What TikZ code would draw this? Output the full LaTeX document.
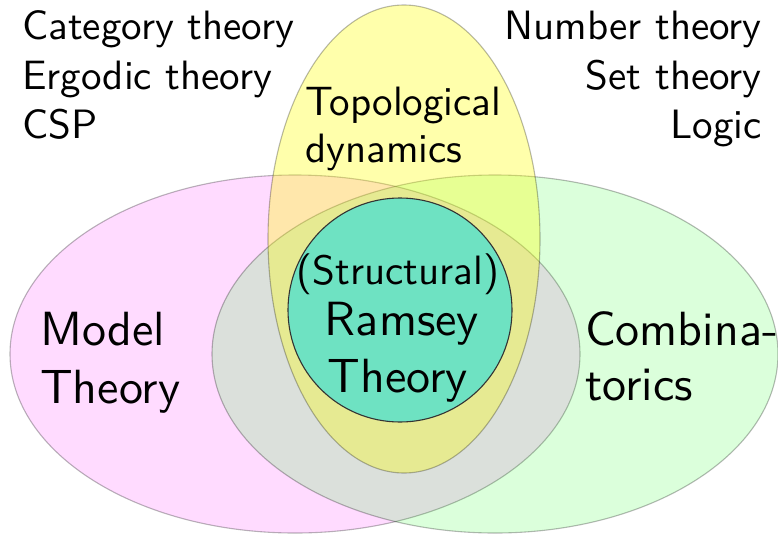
\documentclass[tikz,border=0pt]{standalone}
\usepackage{fontspec}
\setsansfont{lmsans10-regular}[Extension=.otf]
\usetikzlibrary{shapes.geometric}
\definecolor{ramseyfill}{RGB}{110,226,194}
\definecolor{modelcol}{RGB}{255,0,255}
\definecolor{combcol}{RGB}{0,255,0}
\definecolor{topocol}{RGB}{255,255,0}
\begin{document}
\begin{tikzpicture}[x=1pt,y=-1pt,
  region/.style={ellipse, inner sep=0pt, draw=black, draw opacity=0.28, line width=1.1pt},
  lbl/.style={font=\sffamily\fontsize{41}{49}\selectfont, inner sep=0pt},
  mid/.style={font=\sffamily\fontsize{41}{49}\selectfont, inner sep=0pt},
  big/.style={font=\sffamily\fontsize{48}{57}\selectfont, inner sep=0pt}]
\useasboundingbox (0,0) rectangle (778,535);
\node[region, fill=modelcol, fill opacity=0.14, minimum width=570pt, minimum height=358pt] (model) at (295,354) {};
\node[region, fill=combcol, fill opacity=0.14, minimum width=566pt, minimum height=358pt] (comb) at (495,354) {};
\node[region, fill=topocol, fill opacity=0.33, minimum width=272pt, minimum height=468pt] (topo) at (404,239) {};
\node[circle, inner sep=0pt, fill=ramseyfill, draw=black!80, line width=1.1pt, minimum size=224pt] (ramsey) at (400,310) {};
% corner labels
\node[lbl, anchor=base west] (cat) at (22,40) {Category theory};
\node[lbl, anchor=base west] (erg) at (22,89) {Ergodic theory};
\node[lbl, anchor=base west] (csp) at (22,138) {CSP};
\node[lbl, anchor=base east] (num) at (762,40) {Number theory};
\node[lbl, anchor=base east] (set) at (762,89) {Set theory};
\node[lbl, anchor=base east] (logic) at (762,138) {Logic};
% region labels
\node[mid, anchor=base west] (topo1) at (305,115) {Topological};
\node[mid, anchor=base west] (topo2) at (305,162) {dynamics};
\node[mid, anchor=base] (ram1) at (398,284) {(Structural)};
\node[big, anchor=base] (ram2) at (402,335) {Ramsey};
\node[big, anchor=base] (ram3) at (398,392) {Theory};
\node[big, anchor=base west] (mod1) at (40,345) {Model};
\node[big, anchor=base west] (mod2) at (40,403) {Theory};
\node[big, anchor=base west] (com1) at (585,345) {Combina-};
\node[big, anchor=base west] (com2) at (585,400) {torics};
\end{tikzpicture}
\end{document}
